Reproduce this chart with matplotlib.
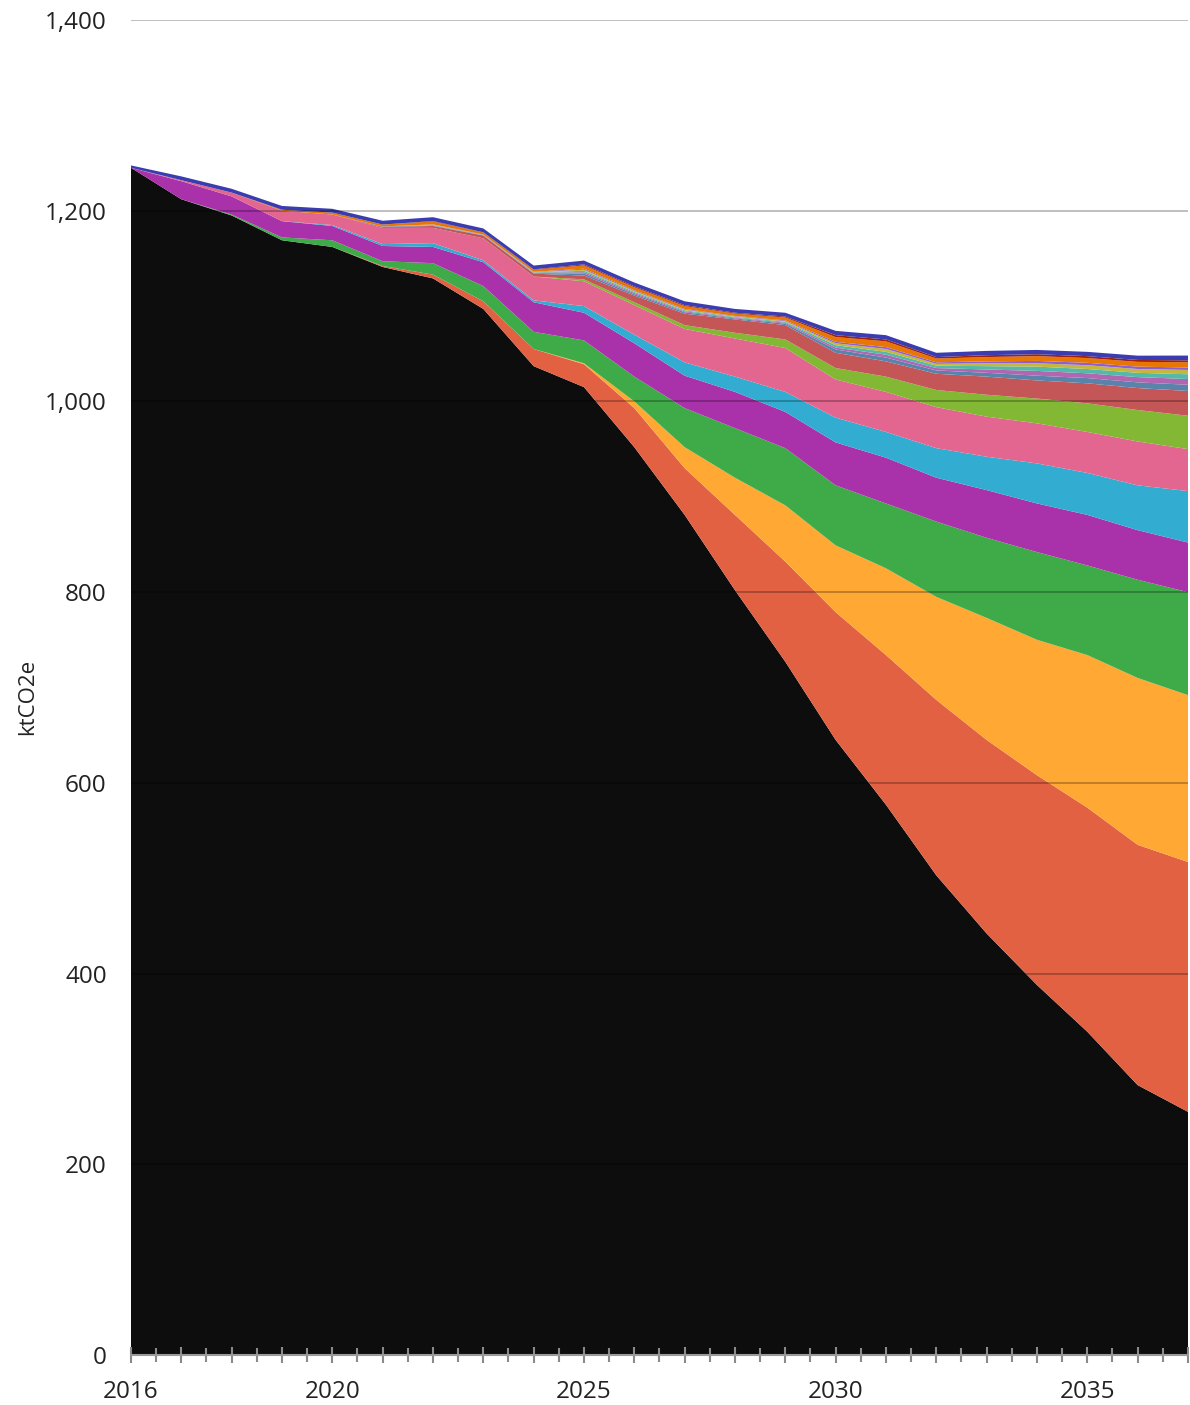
import numpy as np
import matplotlib
matplotlib.use('Agg')
import matplotlib.pyplot as plt
from matplotlib.ticker import FixedLocator, FuncFormatter

plt.rcParams['font.family'] = ['Open Sans', 'DejaVu Sans']

years = list(range(2016, 2038))
label_years = [2016, 2020, 2025, 2030, 2035]

# layer thicknesses in ktCO2e, bottom to top
baseline = [1245, 1212, 1195, 1169, 1162, 1141, 1129, 1097, 1037, 1015, 952,
            881, 802, 727, 645, 577, 503, 442, 388, 339, 283, 255]
s_red = [0, 0, 0, 0, 0, 1, 4, 8, 18, 24, 41, 49, 79, 105, 134, 157, 184, 203,
         220, 235, 252, 262]
s_amber = [0, 0, 0, 0, 0, 0, 0, 0, 0, 1, 7, 22, 39, 59, 70, 91, 108, 128, 142,
           160, 175, 175]
s_green = [0, 0, 1, 3, 7, 5, 12, 16, 18, 24, 26, 41, 52, 60, 63, 68, 79, 84,
           92, 94, 103, 108]
s_purple = [0, 19, 19, 17, 15, 16, 17, 25, 31, 29, 35, 34, 38, 38, 45, 48, 46,
            50, 51, 53, 52, 52]
s_cyan = [0, 0, 0, 0, 1, 2, 4, 2, 2, 7, 9, 14, 16, 21, 26, 27, 31, 35, 42, 44,
          47, 54]
s_pink = [0, 1, 4, 11, 11, 17, 16, 23, 25, 26, 31, 35, 40, 46, 40, 42, 43, 42,
          42, 43, 46, 44]
s_lime = [0, 0, 0, 0, 0, 0, 0, 0, 0, 2, 3, 4, 6, 9, 12, 16, 18, 23, 26, 30,
          33, 35]
s_brick = [0, 0, 0, 0, 0, 1, 2, 3, 3, 4, 7, 12, 14, 15, 16, 16, 17, 19, 19,
           21, 23, 26]
s_steel = [0, 0, 0, 0, 0, 0.5, 0.5, 0.3, 0.6, 2, 1.5, 1.5, 1, 1.5, 3.5, 4,
           3.5, 4, 5, 5.5, 6, 6.5]
s_mauve = [0, 0, 0, 0, 0, 0, 0.3, 0.2, 0.4, 1.5, 1.2, 1, 0.8, 1, 2, 3, 2.5,
           3.5, 5, 5, 5.5, 6]
s_teal = [0, 0, 0, 0, 0, 0, 0.3, 0.2, 0.4, 1.5, 1.2, 1, 0.8, 1, 2.5, 3, 2.5,
          3.5, 4.5, 4.5, 4.5, 5]
s_olive = [0, 0, 0, 0, 0, 0, 0.3, 0.2, 0.3, 1.2, 1, 0.8, 0.6, 0.8, 2, 3, 2,
           3, 3.5, 4, 4, 4.5]
s_violet = [0, 0, 0, 0, 0, 0, 0.3, 0.2, 0.3, 1, 0.8, 0.7, 0.5, 0.7, 1.5, 2,
            1.5, 2, 2.5, 2.5, 2.5, 2.6]
s_orange = [0, 0, 0, 1, 2, 2, 3, 2, 2, 3.5, 3, 3, 2.5, 3, 5, 6, 4, 4.5, 5, 5,
            5, 5.5]
s_maroon = [0, 0, 0, 0, 0, 0, 0.5, 0.3, 0.5, 1, 1, 1, 0.8, 1, 2, 2, 1.5, 2, 2,
            2, 2, 2]
s_navy = [2.5, 4, 4, 4, 4, 4, 4, 4, 4, 4, 4, 4, 4, 4, 4.5, 4.5, 4.5, 4.5, 4.5,
          4.5, 4.5, 5]

series = [baseline, s_red, s_amber, s_green, s_purple, s_cyan, s_pink, s_lime,
          s_brick, s_steel, s_mauve, s_teal, s_olive, s_violet, s_orange,
          s_maroon, s_navy]
colors = ['#0d0d0d', '#e26143', '#ffa833', '#3eab48', '#a931a9', '#33acd2',
          '#e2668f', '#83b834', '#c45657', '#5a83ac', '#b066b0', '#53b9a9',
          '#c4b63f', '#8c5fd9', '#e87602', '#9e2010', '#3b3cb0']

fig = plt.figure(figsize=(11.9, 14.05), dpi=100)
ax = fig.add_axes([131 / 1190, 1 - 1355 / 1405, 1057 / 1190, 1335 / 1405])

ax.stackplot(years, *series, colors=colors, linewidth=0, antialiased=True)

ax.set_xlim(2016, 2037)
ax.set_ylim(0, 1400)

# gridlines drawn over the areas
for v in range(200, 1401, 200):
    ax.axhline(v, color='black', alpha=0.27, linewidth=1.3, zorder=5)

ax.set_yticks(range(0, 1401, 200))
ax.yaxis.set_major_formatter(FuncFormatter(lambda v, p: f'{int(v):,}'))
ax.tick_params(axis='y', length=0, pad=17.5, labelsize=17.5, labelcolor='#222222')

ax.xaxis.set_major_locator(FixedLocator(years))
ax.xaxis.set_minor_locator(FixedLocator([y + 0.5 for y in years[:-1]]))
ax.xaxis.set_major_formatter(
    FuncFormatter(lambda v, p: str(int(round(v))) if int(round(v)) in label_years else ''))
ax.tick_params(axis='x', which='major', direction='inout', length=12, width=1.5,
               color='#8a8a8a', pad=12, labelsize=17.5, labelcolor='#222222')
ax.tick_params(axis='x', which='minor', direction='inout', length=9.5, width=1.5,
               color='#8a8a8a')
for t in ax.xaxis.get_major_ticks() + ax.xaxis.get_minor_ticks():
    t.tick1line.set_zorder(6)

for side in ['top', 'right', 'left']:
    ax.spines[side].set_visible(False)
ax.spines['bottom'].set_color('#9a9a9a')
ax.spines['bottom'].set_linewidth(1.5)
ax.spines['bottom'].set_zorder(6)

fig.text(28 / 1190, 1 - 697 / 1405, 'ktCO2e', rotation=90, fontsize=16,
         color='#222222', ha='center', va='center')

fig.savefig('out.png', dpi=100)
